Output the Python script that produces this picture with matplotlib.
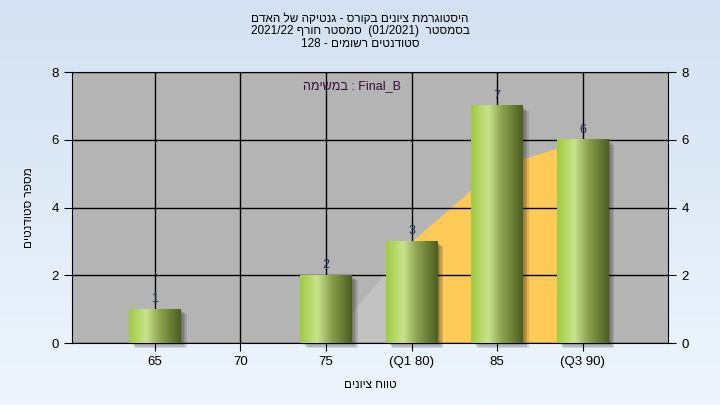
import numpy as np
import matplotlib
matplotlib.use("Agg")
import matplotlib.pyplot as plt
from matplotlib.colors import LinearSegmentedColormap
from matplotlib.patches import Rectangle

plt.rcParams["font.family"] = ["Liberation Sans", "DejaVu Sans"]

# data
categories = ["65", "70", "75", "(Q1 80)", "85", "(Q3 90)"]
counts = [1, 0, 2, 3, 7, 6]
iqr_pos = [3, 4, 5]          # orange band between Q1 and Q3
iqr_top = [3, 5.2, 6]
low_pos = [2, 3]             # light grey wedge ahead of Q1
low_top = [0, 3]


def vis(s):
    """Reverse a Hebrew run so it draws right-to-left."""
    return s[::-1]


title = "\n".join([
    vis("היסטוגרמת ציונים בקורס - גנטיקה של האדם"),
    "2021/22 " + vis("סמסטר חורף") + "  (01/2021)  " + vis("בסמסטר"),
    "128 - " + vis("סטודנטים רשומים"),
])
task_label = vis("במשימה") + " : Final_B"
xlabel = vis("טווח ציונים")
ylabel = vis("מספר סטודנטים")

fig = plt.figure(figsize=(7.2, 4.05), dpi=100)

# light blue gradient background
bg = fig.add_axes([0, 0, 1, 1], zorder=-10)
bg_cmap = LinearSegmentedColormap.from_list("bg", ["#d3e1f2", "#eef5fd"])
bg.imshow(np.linspace(0, 1, 256)[:, None], cmap=bg_cmap, aspect="auto",
          extent=[0, 1, 0, 1], origin="upper")
bg.axis("off")

ax = fig.add_axes([0.1, 0.153, 0.828, 0.669])
ax.set_facecolor("#b4b4b4")
x = np.arange(len(categories))

ax.fill_between(low_pos, 0, low_top, color="#c2c2c2", lw=0, zorder=1)
ax.fill_between(iqr_pos, 0, iqr_top, color="#fdca57", lw=0, zorder=1)

bar_cmap = LinearSegmentedColormap.from_list(
    "bar", [(0, "#9fcb3f"), (0.33, "#c9e38d"), (0.6, "#8da24e"), (1, "#4b5e21")])
grad = np.linspace(0, 1, 128)[None, :]
w = 0.6
for xi, c in zip(x, counts):
    if c == 0:
        continue
    for k in range(4):
        off = 0.018 * (k + 1)
        ax.add_patch(Rectangle((xi - w / 2 + off, -0.035 * (k + 1)), w, c,
                               color="#202020", alpha=0.14, lw=0, zorder=2,
                               clip_on=False))
    ax.imshow(grad, cmap=bar_cmap, aspect="auto", zorder=3,
              extent=[xi - w / 2, xi + w / 2, 0, c])
    ax.text(xi, c + 0.12, str(c), ha="center", va="bottom", fontsize=9,
            color="#1f3050", zorder=4)

ax.set_xlim(-0.97, 6.0)
ax.set_ylim(0, 8)
ax.set_xticks(x)
ax.set_xticklabels(categories)
ax.set_yticks([0, 2, 4, 6, 8])
ax.grid(True, color="black", lw=1)
ax.set_axisbelow(False)
for gl in ax.get_xgridlines() + ax.get_ygridlines():
    gl.set_zorder(1.5)
ax.tick_params(direction="out", length=6, color="black", labelsize=9.5,
               right=True, labelright=True)
for s in ax.spines.values():
    s.set_color("black")

ax.set_xlabel(xlabel, fontsize=8.5, labelpad=8)
ax.set_ylabel(ylabel, fontsize=8.5, labelpad=12)
ax.text(0.47, 0.95, task_label, transform=ax.transAxes, ha="center",
        va="center", fontsize=9, color="#3a0a3a", zorder=5)

fig.text(0.5, 0.968, title, ha="center", va="top", fontsize=8.5,
         linespacing=1.05)

fig.savefig("out.png", dpi=100)
